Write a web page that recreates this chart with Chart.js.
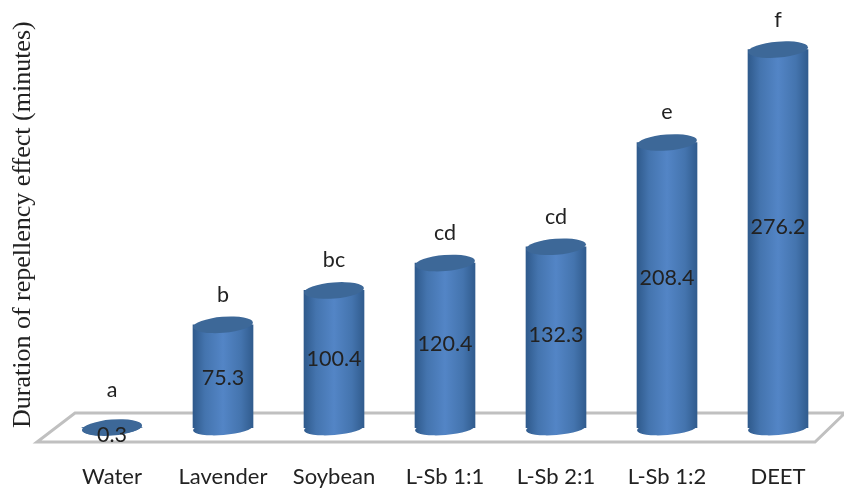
<!DOCTYPE html>
<html lang="en">
<head>
    <meta charset="UTF-8">
    <title>Duration of repellency effect</title>
    <script src="https://cdn.jsdelivr.net/npm/chart.js"></script>
    <style>
        html, body { margin: 0; padding: 0; background: #ffffff; }
        #wrap { width: 844px; height: 491px; }
    </style>
</head>
<body>
    <div id="wrap"><canvas id="chart"></canvas></div>
    <script>
        const categories = ['Water', 'Lavender', 'Soybean', 'L-Sb 1:1', 'L-Sb 2:1', 'L-Sb 1:2', 'DEET'];
        const durations = [0.3, 75.3, 100.4, 120.4, 132.3, 208.4, 276.2];
        const letters = ['a', 'b', 'bc', 'cd', 'cd', 'e', 'f'];

        const textColor = '#222222';
        const labelFont = '21.5px Lato, "Open Sans", sans-serif';
        const barWidth = 60;
        const tilt = -0.08;

        function sideGradient(ctx, x) {
            if (!Number.isFinite(x)) return '#4070a9';
            const g = ctx.createLinearGradient(x - barWidth / 2, 0, x + barWidth / 2, 0);
            g.addColorStop(0, '#2f5a8c');
            g.addColorStop(0.2, '#4474ae');
            g.addColorStop(0.5, '#5385c6');
            g.addColorStop(0.8, '#4474ae');
            g.addColorStop(1, '#315c8e');
            return g;
        }

        // floor, cylinder caps and the text on the bars
        const cylinders = {
            id: 'cylinders',
            beforeDatasetsDraw(chart) {
                const ctx = chart.ctx;
                const base = chart.scales.y.getPixelForValue(0);
                ctx.save();
                ctx.strokeStyle = '#c0c0c0';
                ctx.lineWidth = 3;
                ctx.beginPath();
                ctx.moveTo(75, base - 15);
                ctx.lineTo(845, base - 15);
                ctx.lineTo(815, base + 14);
                ctx.lineTo(37, base + 14);
                ctx.closePath();
                ctx.stroke();
                ctx.restore();
            },
            afterDatasetsDraw(chart) {
                const ctx = chart.ctx;
                const base = chart.scales.y.getPixelForValue(0);
                const bars = chart.getDatasetMeta(0).data;
                ctx.save();
                bars.forEach((bar, i) => {
                    ctx.fillStyle = sideGradient(ctx, bar.x);
                    ctx.beginPath();
                    ctx.ellipse(bar.x, base, barWidth / 2, 7, tilt, 0, Math.PI * 2);
                    ctx.fill();
                    ctx.fillStyle = '#3d6898';
                    ctx.beginPath();
                    ctx.ellipse(bar.x, bar.y, barWidth / 2, 8, tilt, 0, Math.PI * 2);
                    ctx.fill();
                });
                ctx.fillStyle = textColor;
                ctx.font = labelFont;
                ctx.textAlign = 'center';
                ctx.textBaseline = 'middle';
                bars.forEach((bar, i) => {
                    const h = base - bar.y;
                    ctx.fillText(durations[i], bar.x, base - (0.55 * h - 7));
                    ctx.fillText(letters[i], bar.x, bar.y - (h < 20 ? 38 : 30));
                });
                ctx.restore();
            }
        };

        new Chart(document.getElementById('chart'), {
            type: 'bar',
            data: {
                labels: categories,
                datasets: [{
                    data: durations,
                    barThickness: barWidth,
                    backgroundColor: c => sideGradient(c.chart.ctx, c.chart.scales.x.getPixelForValue(c.dataIndex))
                }]
            },
            options: {
                responsive: true,
                maintainAspectRatio: false,
                animation: false,
                layout: { padding: { top: 17, right: 10.5, bottom: 0, left: 0 } },
                plugins: { legend: { display: false }, tooltip: { enabled: false } },
                scales: {
                    x: {
                        grid: { display: false },
                        border: { display: false },
                        ticks: {
                            color: textColor,
                            font: { family: 'Lato, "Open Sans", sans-serif', size: 22 },
                            padding: 28,
                            maxRotation: 0,
                            autoSkip: false
                        },
                        afterFit(scale) { scale.height = 63; }
                    },
                    y: {
                        min: 0,
                        max: 300,
                        grid: { display: false },
                        border: { display: false },
                        ticks: { display: false },
                        title: {
                            display: true,
                            align: 'start',
                            text: 'Duration of repellency effect (minutes)',
                            color: textColor,
                            font: { family: '"Liberation Serif", serif', size: 26 },
                            padding: { top: 8, bottom: 0 }
                        },
                        afterFit(scale) { scale.width = 56.5; }
                    }
                }
            },
            plugins: [cylinders]
        });
    </script>
</body>
</html>
